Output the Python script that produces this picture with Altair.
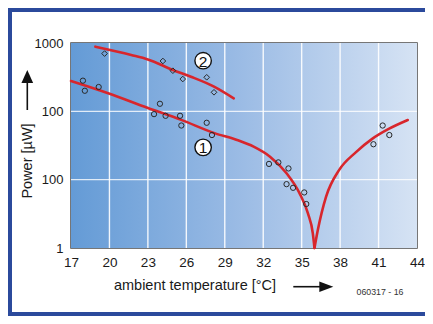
import altair as alt
import pandas as pd

# ---------------- data ----------------
x_ticks = [17, 20, 23, 26, 29, 32, 35, 38, 41, 44]
x_grid = [20, 23, 26, 29, 32, 35, 38, 41]
y_ticks = [1, 10, 100, 1000]
y_tick_labels = ["1", "100", "100", "1000"]   # as printed in the original
y_grid = [10, 100]

# curve 1 (two branches meeting at the minimum)
c1_left_x = [17.0, 19.9, 23.0, 25.6, 28.2, 29.96, 31.25, 32.53, 33.82, 34.84, 35.49, 35.87, 36.0]
c1_left_y = [278, 184, 112, 75, 48, 38, 30.4, 21.7, 12.4, 6.3, 3.2, 1.64, 1.0]
c1_right_x = [36.0, 36.26, 36.9, 37.93, 39.22, 40.5, 41.79, 43.28]
c1_right_y = [1.0, 1.83, 5.6, 13.9, 25.1, 39.5, 55.2, 74.6]

# curve 2
c2_x = [18.9, 21.7, 23.0, 24.95, 26.36, 28.16, 29.7]
c2_y = [883, 668, 575, 403, 321, 230, 155]

# measured points (circles -> curve 1)
circ_x = [17.93, 18.08, 19.16, 23.48, 23.94, 24.38, 25.51, 25.61, 27.59, 28.0,
          32.45, 33.18, 33.97, 33.82, 34.33, 35.2, 35.36, 40.6, 41.32, 41.84]
circ_y = [281, 200, 227, 91, 129, 86, 86, 62, 68, 45,
          17, 17.9, 14.6, 8.6, 7.6, 6.5, 4.4, 33, 62, 45]

# measured points (diamonds -> curve 2)
diam_x = [19.62, 24.17, 24.95, 25.72, 27.59, 28.16]
diam_y = [700, 545, 393, 297, 315, 190]

# curve labels
lab_x = [27.31, 27.31]
lab_y = [551, 29.7]
lab_t = ["2", "1"]

x_title = "ambient temperature  [°C]"
y_title = "Power  [µW]"
code_text = "060317 - 16"

# ---------------- chart ----------------
FONT = "Liberation Sans"
W, H = 346, 205
PAD_L, PAD_T, PAD_R, PAD_B = 63, 35, 8, 68
RED = "#d8262c"
FRAME = "#2b4a9c"

label_expr = " : ".join(
    [f"datum.value == {v} ? '{t}'" for v, t in zip(y_ticks, y_tick_labels)]
) + " : datum.label"

xscale = alt.Scale(domain=[17, 44], nice=False, zero=False)
yscale = alt.Scale(type="log", domain=[1, 1000], nice=False)

xaxis = alt.Axis(values=x_ticks, grid=False, ticks=False, tickSize=0, domain=False,
                 labelFlush=False, labelFontSize=13.5, labelColor="#1a1a1a",
                 labelFont=FONT, labelPadding=7, title=None)
yaxis = alt.Axis(values=y_ticks, grid=False, ticks=False, tickSize=0, domain=False,
                 labelFlush=False, labelExpr=label_expr, labelFontSize=13,
                 labelColor="#1a1a1a", labelFont=FONT, labelPadding=8, title=None)

X = lambda f: alt.X(f"{f}:Q", scale=xscale, axis=xaxis)
Y = lambda f: alt.Y(f"{f}:Q", scale=yscale, axis=yaxis)

one = pd.DataFrame({"a": [0]})

grad = alt.Gradient(
    gradient="linear",
    stops=[alt.GradientStop(color="#649bd6", offset=0),
           alt.GradientStop(color="#9cbce5", offset=0.5),
           alt.GradientStop(color="#d6e3f4", offset=1)],
    x1=0, x2=1, y1=0, y2=0,
)
bg = alt.Chart(one).mark_rect(fill=grad).encode(
    x=alt.value(0), x2=alt.value(W), y=alt.value(0), y2=alt.value(H)
)

vgrid = alt.Chart(pd.DataFrame({"x": x_grid})).mark_rule(
    color="white", strokeWidth=1.4, opacity=0.9).encode(x=X("x"))
hgrid = alt.Chart(pd.DataFrame({"y": y_grid})).mark_rule(
    color="white", strokeWidth=1.4, opacity=0.8).encode(y=Y("y"))

curves = pd.concat([
    pd.DataFrame({"x": c1_left_x, "y": c1_left_y, "s": "1a"}),
    pd.DataFrame({"x": c1_right_x, "y": c1_right_y, "s": "1b"}),
    pd.DataFrame({"x": c2_x, "y": c2_y, "s": "2"}),
])
lines = alt.Chart(curves).mark_line(
    color=RED, strokeWidth=2.6, interpolate="monotone", strokeCap="round"
).encode(x=X("x"), y=Y("y"), detail="s:N")

circ = alt.Chart(pd.DataFrame({"x": circ_x, "y": circ_y})).mark_point(
    shape="circle", filled=False, stroke="#2a2a2a", strokeWidth=1, size=28, opacity=1
).encode(x=X("x"), y=Y("y"))
diam = alt.Chart(pd.DataFrame({"x": diam_x, "y": diam_y})).mark_point(
    shape="diamond", filled=False, stroke="#2a2a2a", strokeWidth=1, size=32, opacity=1
).encode(x=X("x"), y=Y("y"))

labdf = pd.DataFrame({"x": lab_x, "y": lab_y, "t": lab_t})
labc = alt.Chart(labdf).mark_point(
    shape="circle", filled=True, fill="white", stroke="#111", strokeWidth=1.4,
    size=270, opacity=1
).encode(x=X("x"), y=Y("y"))
labt = alt.Chart(labdf).mark_text(
    font=FONT, fontSize=15.5, color="#111", align="center", baseline="middle", dy=1
).encode(x=X("x"), y=Y("y"), text="t:N")

# titles and arrows (placed relative to the plot area; page x = 71 + value)
ytitle = alt.Chart(one).mark_text(
    font=FONT, fontSize=14.5, color="#1a1a1a", angle=270, align="center", baseline="middle"
).encode(x=alt.value(-43.5), y=alt.value(118), text=alt.value(y_title))
xtitle = alt.Chart(one).mark_text(
    font=FONT, fontSize=14.5, color="#1a1a1a", align="center", baseline="middle"
).encode(x=alt.value(124), y=alt.value(242.5), text=alt.value(x_title))
code = alt.Chart(one).mark_text(
    font=FONT, fontSize=8.8, color="#333", align="center", baseline="middle"
).encode(x=alt.value(309), y=alt.value(249), text=alt.value(code_text))

up_line = alt.Chart(one).mark_rule(color="#111", strokeWidth=1.6).encode(
    x=alt.value(-43.7), y=alt.value(38), y2=alt.value(67))
up_head = alt.Chart(one).mark_point(
    shape="M0,-1L0.9,1L-0.9,1Z", filled=True, fill="#111", stroke=None, size=169, opacity=1
).encode(x=alt.value(-43.7), y=alt.value(33.5))
r_line = alt.Chart(one).mark_rule(color="#111", strokeWidth=1.6).encode(
    x=alt.value(222.3), x2=alt.value(251), y=alt.value(243.7))
r_head = alt.Chart(one).mark_point(
    shape="M1,0L-1,-0.75L-1,0.75Z", filled=True, fill="#111", stroke=None, size=196, opacity=1
).encode(x=alt.value(255.3), y=alt.value(243.7))

# outer frame
fr_left = alt.Chart(one).mark_rect(color=FRAME).encode(
    x=alt.value(-PAD_L), x2=alt.value(-PAD_L + 4), y=alt.value(-PAD_T), y2=alt.value(H + PAD_B))
fr_top = alt.Chart(one).mark_rect(color=FRAME).encode(
    x=alt.value(-PAD_L), x2=alt.value(W + PAD_R), y=alt.value(-PAD_T), y2=alt.value(-PAD_T + 4))
fr_bot = alt.Chart(one).mark_rect(color=FRAME).encode(
    x=alt.value(-PAD_L), x2=alt.value(W + PAD_R), y=alt.value(H + PAD_B - 4), y2=alt.value(H + PAD_B))

chart = alt.layer(
    bg, vgrid, hgrid, lines, circ, diam, labc, labt,
    ytitle, xtitle, code, up_line, up_head, r_line, r_head,
    fr_left, fr_top, fr_bot,
).properties(
    width=W, height=H,
    autosize=alt.AutoSizeParams(type="none"),
    padding={"left": PAD_L, "top": PAD_T, "right": PAD_R, "bottom": PAD_B},
    background="white",
).configure_view(
    stroke="#4a4a4a", strokeWidth=1.5
)

chart.save("out.html", embed_options={"renderer": "svg", "actions": False})
